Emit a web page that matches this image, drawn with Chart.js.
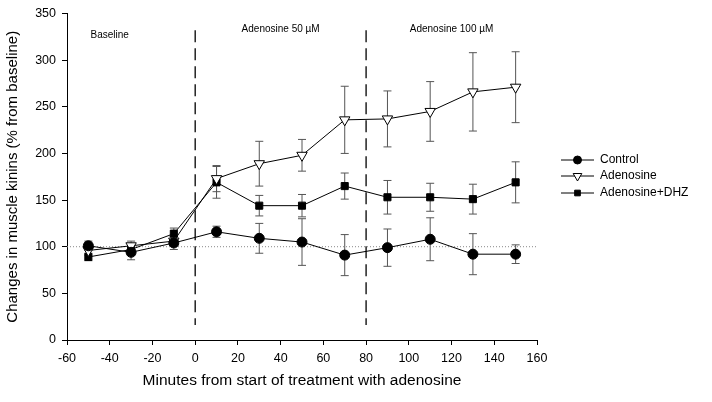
<!DOCTYPE html>
<html>
<head>
<meta charset="utf-8">
<script src="https://cdn.jsdelivr.net/npm/chart.js@4"></script>
<style>
  html, body { margin: 0; padding: 0; background: #fff; }
  #wrap { width: 712px; height: 402px; }
</style>
</head>
<body>
<div id="wrap"><canvas id="kininChart" width="712" height="402"></canvas></div>
<script>
// Time points (minutes)
const minutes = [-50, -30, -10, 10, 30, 50, 70, 90, 110, 130, 150];

// Mean values (% from baseline)
const controlVals   = [101, 94, 104, 116, 109, 105, 91, 99, 108, 92, 92];
const adenosineVals = [96, 101, 106, 173, 189, 198, 236, 237, 245, 266, 271];
const dhzVals       = [89, 97, 114, 169, 144, 144, 165, 153, 153, 151, 169];

// Error bars (+/- SEM)
const controlErr   = [5, 8, 7, 6, 16, 25, 22, 20, 23, 22, 10];
const adenosineErr = [5, 5, 5, 14, 24, 17, 36, 30, 32, 42, 38];
const dhzErr       = [4, 6, 6, 17, 11, 12, 14, 18, 15, 16, 22];

// Treatment phases
const phaseLines = [0, 80];
const phaseLabels = ['Baseline', 'Adenosine 50 \u00b5M', 'Adenosine 100 \u00b5M'];
const phaseLabelX = [-40, 40, 120];

const FONT = '"Liberation Sans", Arial, sans-serif';

function toPoints(vals) {
    return minutes.map((m, i) => ({ x: m, y: vals[i] }));
}

// Error bars drawn behind the markers
const errorBars = {
    id: 'errorBars',
    beforeDatasetsDraw(chart) {
        const ctx = chart.ctx;
        const xs = chart.scales.x, ys = chart.scales.y;
        const errs = [controlErr, adenosineErr, dhzErr];
        ctx.save();
        ctx.strokeStyle = '#555';
        ctx.lineWidth = 1;
        chart.data.datasets.forEach((ds, di) => {
            ds.data.forEach((p, i) => {
                const x = xs.getPixelForValue(p.x);
                const top = ys.getPixelForValue(p.y + errs[di][i]);
                const bot = ys.getPixelForValue(p.y - errs[di][i]);
                ctx.beginPath();
                ctx.moveTo(x, top); ctx.lineTo(x, bot);
                ctx.moveTo(x - 4, top); ctx.lineTo(x + 4, top);
                ctx.moveTo(x - 4, bot); ctx.lineTo(x + 4, bot);
                ctx.stroke();
            });
        });
        ctx.restore();
    }
};

// Baseline dotted line, phase dashes and labels
const phases = {
    id: 'phases',
    beforeDatasetsDraw(chart) {
        const ctx = chart.ctx;
        const xs = chart.scales.x, ys = chart.scales.y;
        ctx.save();
        ctx.strokeStyle = '#888';
        ctx.lineWidth = 1;
        ctx.setLineDash([1, 2]);
        const y100 = ys.getPixelForValue(100);
        ctx.beginPath();
        ctx.moveTo(xs.left, y100); ctx.lineTo(xs.right, y100);
        ctx.stroke();

        ctx.strokeStyle = '#000';
        ctx.lineWidth = 1.3;
        ctx.setLineDash([12, 6]);
        phaseLines.forEach(v => {
            const x = xs.getPixelForValue(v);
            ctx.beginPath();
            ctx.moveTo(x, ys.getPixelForValue(332));
            ctx.lineTo(x, ys.getPixelForValue(16));
            ctx.stroke();
        });
        ctx.setLineDash([]);

        ctx.fillStyle = '#000';
        ctx.font = '10px ' + FONT;
        ctx.textAlign = 'center';
        ctx.textBaseline = 'middle';
        phaseLabels.forEach((t, i) => {
            const x = xs.getPixelForValue(phaseLabelX[i]);
            const y = ys.getPixelForValue(i === 0 ? 327 : 333);
            ctx.fillText(t, x, y);
        });
        ctx.restore();
    }
};

// Legend on the right, line through the marker
const sideLegend = {
    id: 'sideLegend',
    afterDraw(chart) {
        const ctx = chart.ctx;
        const x0 = 561, x1 = 594, tx = 600;
        const rows = [160, 176, 193];
        ctx.save();
        chart.data.datasets.forEach((ds, i) => {
            const y = rows[i];
            ctx.strokeStyle = '#000';
            ctx.lineWidth = 1;
            ctx.beginPath();
            ctx.moveTo(x0, y); ctx.lineTo(x1, y);
            ctx.stroke();
            ctx.fillStyle = ds.pointBackgroundColor;
            ctx.strokeStyle = ds.pointBorderColor;
            Chart.helpers.drawPoint(ctx, {
                pointStyle: ds.pointStyle,
                radius: ds.pointRadius - 1,
                rotation: ds.pointRotation || 0,
                borderWidth: 1
            }, (x0 + x1) / 2, y);
            ctx.fillStyle = '#000';
            ctx.font = '12px ' + FONT;
            ctx.textAlign = 'left';
            ctx.textBaseline = 'middle';
            ctx.fillText(ds.label, tx, y);
        });
        ctx.restore();
    }
};

const ctx = document.getElementById('kininChart').getContext('2d');
new Chart(ctx, {
    type: 'line',
    data: {
        datasets: [{
            label: 'Control',
            data: toPoints(controlVals),
            borderColor: '#000',
            borderWidth: 1,
            pointStyle: 'circle',
            pointRadius: 5,
            pointBackgroundColor: '#000',
            pointBorderColor: '#000'
        }, {
            label: 'Adenosine',
            data: toPoints(adenosineVals),
            borderColor: '#000',
            borderWidth: 1,
            pointStyle: 'triangle',
            pointRotation: 180,
            pointRadius: 6,
            pointBackgroundColor: '#fff',
            pointBorderColor: '#000'
        }, {
            label: 'Adenosine+DHZ',
            data: toPoints(dhzVals),
            borderColor: '#000',
            borderWidth: 1,
            pointStyle: 'rect',
            pointRadius: 5,
            pointBackgroundColor: '#000',
            pointBorderColor: '#000'
        }]
    },
    options: {
        responsive: false,
        animation: false,
        layout: { padding: { top: 11, right: 175, left: 0, bottom: 0 } },
        plugins: {
            legend: { display: false },
            tooltip: { enabled: false }
        },
        scales: {
            x: {
                type: 'linear',
                min: -60,
                max: 160,
                ticks: { stepSize: 20, color: '#000', font: { family: FONT, size: 12.5 }, padding: 6 },
                grid: { drawOnChartArea: false, drawTicks: true, tickLength: 5, color: '#000' },
                border: { color: '#000' },
                title: {
                    display: true,
                    text: 'Minutes from start of treatment with adenosine',
                    color: '#000',
                    font: { family: FONT, size: 15.5 },
                    padding: { top: 6, bottom: 12 }
                },
                afterFit(scale) { scale.height = 62; }
            },
            y: {
                min: 0,
                max: 350,
                ticks: { stepSize: 50, color: '#000', font: { family: FONT, size: 12.5 }, padding: 6 },
                grid: { drawOnChartArea: false, drawTicks: true, tickLength: 5, color: '#000' },
                border: { color: '#000' },
                title: {
                    display: true,
                    text: 'Changes in muscle kinins (% from baseline)',
                    color: '#000',
                    font: { family: FONT, size: 15 },
                    padding: { bottom: 2 }
                },
                afterFit(scale) { scale.width = 67; }
            }
        }
    },
    plugins: [errorBars, phases, sideLegend]
});
</script>
</body>
</html>
